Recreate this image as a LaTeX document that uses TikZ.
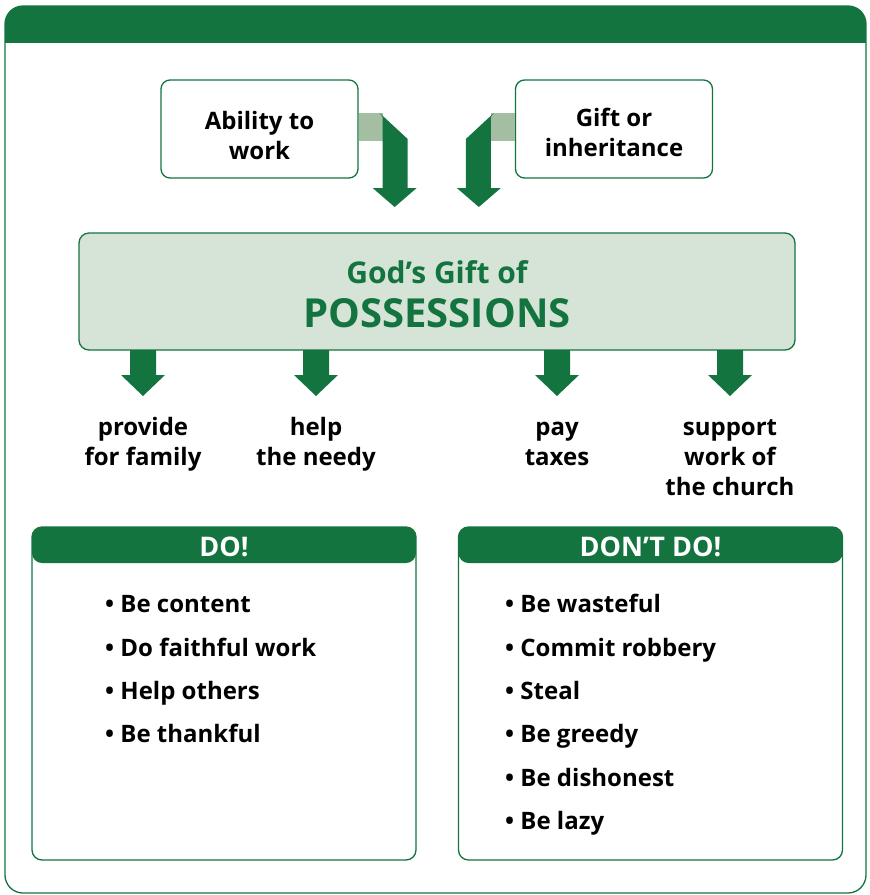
\documentclass[tikz,border=0pt]{standalone}
\usepackage{fontspec}
\setmainfont{Open Sans}
\usetikzlibrary{calc}
\definecolor{dgreen}{RGB}{19,116,63}
\definecolor{lband}{RGB}{163,190,160}
\definecolor{mfill}{RGB}{214,227,215}
\tikzset{
  frameline/.style={draw=dgreen, line width=1.3pt},
  smallbox/.style={frameline, fill=white, rounded corners=9pt, minimum width=197pt, minimum height=98pt},
  mainbox/.style={frameline, fill=mfill, rounded corners=10pt, minimum width=716pt, minimum height=117pt},
  lbl/.style={align=center, anchor=base, inner sep=0pt, font=\bfseries\fontsize{24}{30}\selectfont},
  listbox/.style={frameline, fill=white, rounded corners=10pt, minimum width=384pt, minimum height=333pt,
    path picture={\fill[dgreen] (path picture bounding box.north west) rectangle ([yshift=-36pt]path picture bounding box.north east);}},
  hdr/.style={text=white, anchor=base, inner sep=0pt, font=\bfseries\fontsize{27}{30}\selectfont},
  item/.style={anchor=base west, inner sep=0pt, font=\bfseries\fontsize{24}{30}\selectfont},
  dnarrow/.pic={\fill[dgreen] (-13,0) -- (13,0) -- (13,25) -- (22,25) -- (0,46) -- (-22,25) -- (-13,25) -- cycle;}
}
\begin{document}
\begin{tikzpicture}[x=1pt,y=-1pt]
\useasboundingbox (0,0) rectangle (870,895);
% outer frame
\begin{scope}
\clip[rounded corners=18pt] (5,6) rectangle (866,893);
\fill[dgreen] (5,6) rectangle (866,43);
\end{scope}
\draw[frameline, rounded corners=18pt] (5,6) rectangle (866,893);

% top boxes
\node[smallbox] (abil) at (259.5,129) {};
\node[smallbox] (gift) at (614,129) {};
\node[lbl] (abilt) at (259.5,159) {Ability to\\work};
\node[lbl] (giftt) at (614,156) {Gift or\\inheritance};

% main box
\node[mainbox] (main) at (437,291.5) {};
\node[anchor=base, inner sep=0pt, text=dgreen, font=\bfseries\fontsize{30}{32}\selectfont] (godg) at (437,283) {God’s Gift of};
\node[anchor=base, inner sep=0pt, text=dgreen, font=\bfseries\fontsize{40}{44}\selectfont] (poss) at (437,327) {POSSESSIONS};

% bent connectors
\fill[lband] ($(abil.east)+(0,-16)$) rectangle ($(abil.east)+(24,12)$);
\fill[dgreen] ($(abil.east)+(21,-16)$) -- ($(abil.east)+(49,10)$) -- ($(abil.east)+(49,59)$) -- ($(abil.east)+(58,59)$)
  -- ($(abil.east)+(36,78)$) -- ($(abil.east)+(14,59)$) -- ($(abil.east)+(24,59)$) -- ($(abil.east)+(24,-12)$) -- cycle;
\fill[lband] ($(gift.west)+(0,-16)$) rectangle ($(gift.west)+(-24,12)$);
\fill[dgreen] ($(gift.west)+(-21,-16)$) -- ($(gift.west)+(-49,10)$) -- ($(gift.west)+(-49,59)$) -- ($(gift.west)+(-58,59)$)
  -- ($(gift.west)+(-36,78)$) -- ($(gift.west)+(-14,59)$) -- ($(gift.west)+(-24,59)$) -- ($(gift.west)+(-24,-12)$) -- cycle;

% down arrows
\coordinate (a1) at (143,350);
\coordinate (a2) at (316,350);
\coordinate (a3) at (557,350);
\coordinate (a4) at (730,350);
\foreach \c in {a1,a2,a3,a4} \pic at (\c) {dnarrow};

% labels
\node[lbl] (l1) at (143,465) {provide\\for family};
\node[lbl] (l2) at (316,465) {help\\the needy};
\node[lbl] (l3) at (557,465) {pay\\taxes};
\node[lbl] (l4) at (730,495) {support\\work of\\the church};

% list boxes
\node[listbox] (do) at (224,693.5) {};
\node[listbox] (dont) at (650.5,693.5) {};
\node[hdr] (doh) at (224,556) {DO!};
\node[hdr] (donth) at (650.5,556) {DON’T DO!};

\node[item] (d1) at (105,612) {• Be content};
\node[item] (d2) at (105,656) {• Do faithful work};
\node[item] (d3) at (105,699) {• Help others};
\node[item] (d4) at (105,742) {• Be thankful};

\node[item] (n1) at (505,612) {• Be wasteful};
\node[item] (n2) at (505,656) {• Commit robbery};
\node[item] (n3) at (505,699) {• Steal};
\node[item] (n4) at (505,742) {• Be greedy};
\node[item] (n5) at (505,786) {• Be dishonest};
\node[item] (n6) at (505,829) {• Be lazy};
\end{tikzpicture}
\end{document}
